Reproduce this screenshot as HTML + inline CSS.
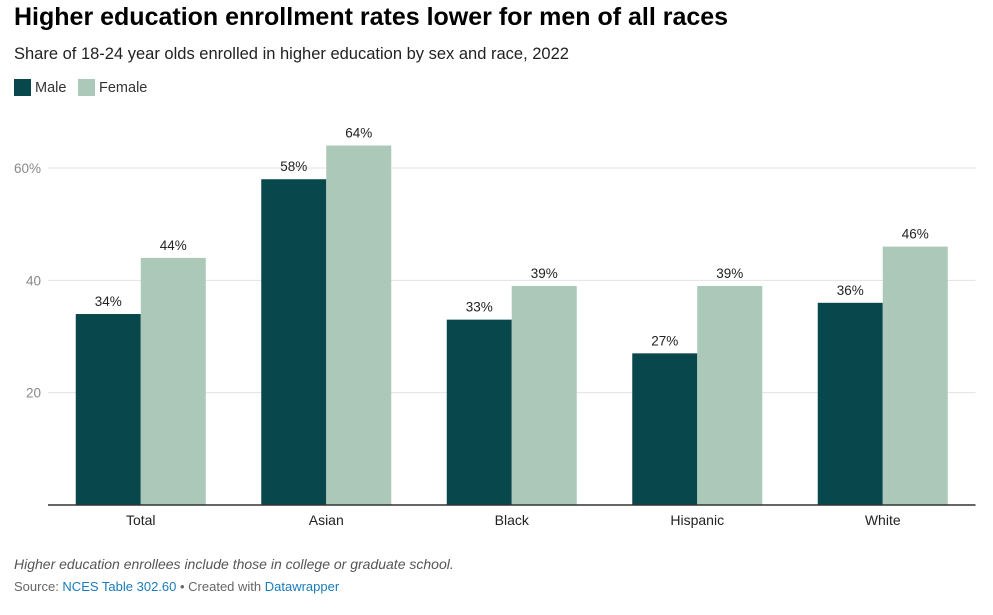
<!DOCTYPE html>
<html><head><meta charset="utf-8"><style>
body{margin:0;background:#fff;font-family:"Liberation Sans",sans-serif;}
#wrap{position:relative;width:993px;height:615px;overflow:hidden;}
.t{position:absolute;white-space:nowrap;}
</style></head><body>
<div id="wrap">
<div class="t" style="left:14px;top:3px;font-size:25px;font-weight:bold;color:#000;">Higher education enrollment rates lower for men of all races</div>
<div class="t" style="left:14px;top:45px;font-size:16.5px;color:#222;">Share of 18-24 year olds enrolled in higher education by sex and race, 2022</div>
<div class="t" style="left:14px;top:79px;font-size:14.5px;color:#333;"><span style="display:inline-block;width:17px;height:17px;background:#08474c;vertical-align:-4px;margin-right:4px"></span>Male</div>
<div class="t" style="left:78px;top:79px;font-size:14.5px;color:#333;"><span style="display:inline-block;width:17px;height:17px;background:#abc8b8;vertical-align:-4px;margin-right:4px"></span>Female</div>
<svg id="chart" width="993" height="615" style="position:absolute;left:0;top:0" font-family="Liberation Sans, sans-serif"></svg>
<div class="t" style="left:14px;top:556px;font-size:14px;font-style:italic;color:#555;">Higher education enrollees include those in college or graduate school.</div>
<div class="t" style="left:14px;top:579px;font-size:13px;color:#666;">Source: <span style="color:#1a7bb9">NCES Table 302.60</span> • Created with <span style="color:#1a7bb9">Datawrapper</span></div>
</div>
<script>
const categories=["Total","Asian","Black","Hispanic","White"];
const maleValues=[34,58,33,27,36];
const femaleValues=[44,64,39,39,46];
const tickValues=[20,40,60];
const tickLabels=["20","40","60%"];
const svg=document.getElementById('chart');
const NS="http://www.w3.org/2000/svg";
const x0=48,x1=975.5,y0=505,y60=168;
const y=v=>y0-(y0-y60)*v/60;
const band=(x1-x0)/categories.length;
function mk(tag,attrs,txt){const e=document.createElementNS(NS,tag);for(const k in attrs)e.setAttribute(k,attrs[k]);if(txt!==undefined)e.textContent=txt;svg.appendChild(e);return e;}
tickValues.forEach((v,i)=>{
 const g=mk('line',{x1:x0,x2:x1,y1:y(v),y2:y(v),stroke:'#e3e3e3','stroke-width':1});
 
 
 const t=mk('text',{x:41,y:y(v)+5,'text-anchor':'end','font-size':13.5,fill:'#888'},tickLabels[i]);
 
 
});
categories.forEach((c,i)=>{
 const cx=x0+band*(i+0.5),w=65;
 [[maleValues[i],'#08474c',cx-w,'male'],[femaleValues[i],'#abc8b8',cx,'female']].forEach(([v,col,bx,s])=>{
  const r=mk('rect',{x:bx,y:y(v),width:w,height:y0-y(v),fill:col});
  
  
  const l=mk('text',{x:bx+w/2,y:y(v)-8,'text-anchor':'middle','font-size':13.5,fill:'#222'},v+'%');
  
  
 });
 const ct=mk('text',{x:cx,y:525,'text-anchor':'middle','font-size':14,fill:'#222'},c);
 
 
});
const base=mk('line',{x1:x0,x2:x1,y1:y0,y2:y0,stroke:'#333','stroke-width':1.5});


</script>
</body></html>
